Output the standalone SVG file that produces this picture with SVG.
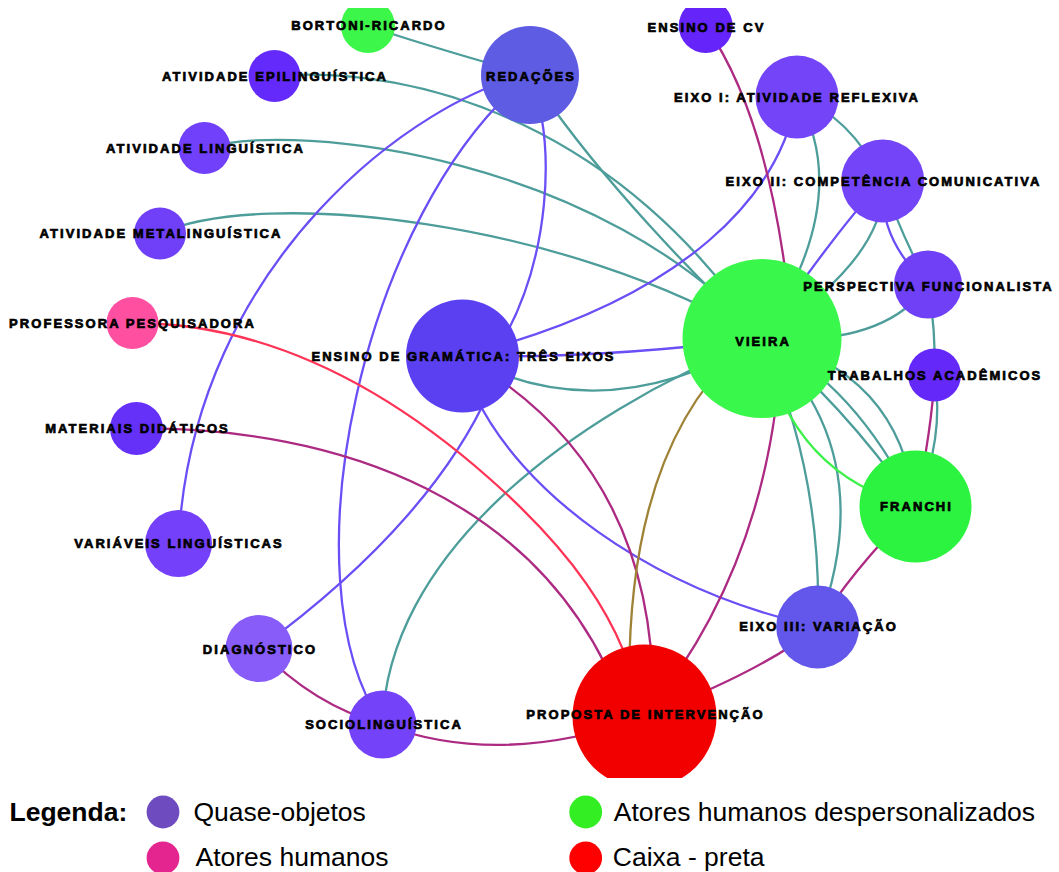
<svg xmlns="http://www.w3.org/2000/svg" width="1059" height="872" viewBox="0 0 1059 872">
  <defs>
    <clipPath id="graphArea">
      <rect x="0" y="8" width="1059" height="770"/>
    </clipPath>
    <style>
      .e { fill: none; stroke-width: 2.3; stroke-linecap: round; }
      .teal { stroke: #4d9d9a; }
      .violet { stroke: #6c4ef6; }
      .plum { stroke: #ac2a82; }
      .rose { stroke: #ff3355; }
      .olive { stroke: #9e8235; }
      .lime { stroke: #3cf24a; }
      .lbl { font-family: "Liberation Sans", Arial, sans-serif; font-weight: bold; font-size: 13px;
             letter-spacing: 2.05px; fill: #000; stroke: #000; stroke-width: 0.7; text-anchor: middle; }
      .legend { font-family: "Liberation Sans", Arial, sans-serif; font-size: 26.5px; fill: #000; }
      .legend-title { font-weight: bold; }
    </style>
  </defs>

  <rect width="1059" height="872" fill="#ffffff"/>

  <g clip-path="url(#graphArea)">
    <!-- connectors -->
    <g id="edges">
      <path class="e teal" d="M368,26 Q424,45 530,75"/>
      <path class="e teal" d="M543,94 C603,180 693,276 762,338.5"/>
      <path class="e teal" d="M274.5,76 C423,64 625,130 762,338.5"/>
      <path class="e teal" d="M204.5,148 C302,120 605,160 762,338.5"/>
      <path class="e teal" d="M160,233.5 C263,187 565,220 762,338.5"/>
      <path class="e teal" d="M462.5,356 Q603,433 762,338.5"/>
      <path class="e teal" d="M382.5,724.5 C387,558 563,418 762,338.5"/>
      <path class="e teal" d="M762,338.5 Q855,198 797,97"/>
      <path class="e teal" d="M797,97 Q849,115 882.7,181"/>
      <path class="e teal" d="M882.7,181 Q889,256 762,338.5"/>
      <path class="e teal" d="M882.7,181 Q900,232 928,284.5"/>
      <path class="e teal" d="M928,284.5 Q885,347 762,338.5"/>
      <path class="e teal" d="M928,284.5 Q936,330 934.5,375"/>
      <path class="e teal" d="M934.5,375 Q945,438 915.5,506.5"/>
      <path class="e teal" d="M762,338.5 Q900,370 915.5,506.5"/>
      <path class="e teal" d="M762,338.5 Q855,383 915.5,506.5"/>
      <path class="e teal" d="M762,338.5 Q838,398 915.5,506.5"/>
      <path class="e teal" d="M762,338.5 Q823,474 817.7,627"/>
      <path class="e teal" d="M762,338.5 Q883,453 817.7,627"/>

      <path class="e violet" d="M882.7,181 Q878,240 928,284.5"/>
      <path class="e violet" d="M530,75 C423,95 192,259 178.5,543.5"/>
      <path class="e violet" d="M530,75 C363,210 283,580 382.5,724.5"/>
      <path class="e violet" d="M530,75 C558,148 548,260 503,340"/>
      <path class="e violet" d="M797,97 C780,193 690,298 462.5,356"/>
      <path class="e violet" d="M762,338.5 Q600,359 462.5,356"/>
      <path class="e violet" d="M882.7,181 Q839,227 762,338.5"/>
      <path class="e violet" d="M490,390 C455,469 383,558 259,648.5"/>
      <path class="e violet" d="M475,395 C520,489 643,588 817.7,627"/>

      <path class="e plum" d="M934.5,375 Q932,428 915.5,506.5"/>
      <path class="e plum" d="M705.7,26 Q768,115 789,300"/>
      <path class="e plum" d="M782,330 Q775,558 644.5,716.5"/>
      <path class="e plum" d="M462.5,356 Q660,468 653,716.5"/>
      <path class="e plum" d="M136.5,428.5 C332,427 550,494 627,716.5"/>
      <path class="e plum" d="M915.5,506.5 Q848,575 817.7,627"/>
      <path class="e plum" d="M817.7,627 Q763,671 644.5,716.5"/>
      <path class="e plum" d="M259,648.5 Q313,705 382.5,724.5"/>
      <path class="e plum" d="M382.5,724.5 Q503,769 644.5,716.5"/>

      <path class="e rose" d="M132.5,323 Q314,323 490,479 C560,541 627,618 642,716.5"/>
      <path class="e olive" d="M740,349 Q620,459 630,716.5"/>
      <path class="e lime" d="M762,338.5 Q790,476 915.5,506.5"/>
    </g>

    <!-- nodes -->
    <g id="node-vieira"><circle cx="762" cy="338.5" r="79.5" fill="#3af74c"/><text class="lbl" x="763" y="345.5">VIEIRA</text></g>
    <g id="node-franchi"><circle cx="915.5" cy="506.5" r="56" fill="#2cf33f"/><text class="lbl" x="916.5" y="511">FRANCHI</text></g>
    <g id="node-bortoni-ricardo"><circle cx="368" cy="26" r="27" fill="#3cf74a"/><text class="lbl" x="369" y="30">BORTONI-RICARDO</text></g>
    <g id="node-redacoes"><circle cx="530" cy="75" r="49" fill="#5f5ce4"/><text class="lbl" x="531" y="81">REDAÇÕES</text></g>
    <g id="node-atividade-epilinguistica"><circle cx="274.5" cy="76" r="26" fill="#6429fb"/><text class="lbl" x="275" y="81">ATIVIDADE EPILINGUÍSTICA</text></g>
    <g id="node-atividade-linguistica"><circle cx="204.5" cy="148" r="26" fill="#7040fa"/><text class="lbl" x="205.5" y="153">ATIVIDADE LINGUÍSTICA</text></g>
    <g id="node-atividade-metalinguistica"><circle cx="160" cy="233.5" r="26" fill="#7040f8"/><text class="lbl" x="161" y="238">ATIVIDADE METALINGUÍSTICA</text></g>
    <g id="node-professora-pesquisadora"><circle cx="132.5" cy="323" r="26" fill="#ff4fa0"/><text class="lbl" x="132.5" y="328">PROFESSORA PESQUISADORA</text></g>
    <g id="node-materiais-didaticos"><circle cx="136.5" cy="428.5" r="26.5" fill="#6530f8"/><text class="lbl" x="137.5" y="433">MATERIAIS DIDÁTICOS</text></g>
    <g id="node-variaveis-linguisticas"><circle cx="178.5" cy="543.5" r="33.5" fill="#7440f9"/><text class="lbl" x="179" y="547.5">VARIÁVEIS LINGUÍSTICAS</text></g>
    <g id="node-diagnostico"><circle cx="259" cy="648.5" r="33.5" fill="#885cf9"/><text class="lbl" x="260" y="654">DIAGNÓSTICO</text></g>
    <g id="node-sociolinguistica"><circle cx="382.5" cy="724.5" r="34" fill="#7442f9"/><text class="lbl" x="384" y="729">SOCIOLINGUÍSTICA</text></g>
    <g id="node-ensino-de-gramatica"><circle cx="462.5" cy="356" r="56.5" fill="#5b40f2"/><text class="lbl" x="463.5" y="361">ENSINO DE GRAMÁTICA: TRÊS EIXOS</text></g>
    <g id="node-ensino-de-cv"><circle cx="705.7" cy="26" r="27" fill="#6424fa"/><text class="lbl" x="706.5" y="31.5">ENSINO DE CV</text></g>
    <g id="node-eixo-i"><circle cx="797" cy="97" r="41.5" fill="#7444f9"/><text class="lbl" x="797" y="102">EIXO I: ATIVIDADE REFLEXIVA</text></g>
    <g id="node-eixo-ii"><circle cx="882.7" cy="181" r="41.5" fill="#7444f9"/><text class="lbl" x="883.5" y="186">EIXO II: COMPETÊNCIA COMUNICATIVA</text></g>
    <g id="node-perspectiva-funcionalista"><circle cx="928" cy="284.5" r="34" fill="#7040f7"/><text class="lbl" x="928.5" y="290.5">PERSPECTIVA FUNCIONALISTA</text></g>
    <g id="node-trabalhos-academicos"><circle cx="934.5" cy="375" r="26.5" fill="#6429f9"/><text class="lbl" x="935" y="379.5">TRABALHOS ACADÊMICOS</text></g>
    <g id="node-eixo-iii"><circle cx="817.7" cy="627" r="41.5" fill="#6356ea"/><text class="lbl" x="818.5" y="631">EIXO III: VARIAÇÃO</text></g>
    <g id="node-proposta-de-intervencao"><circle cx="644.5" cy="716.5" r="72" fill="#f20000"/><text class="lbl" x="645.5" y="719">PROPOSTA DE INTERVENÇÃO</text></g>
  </g>

  <!-- legend -->
  <g id="legend">
    <text class="legend legend-title" x="9.5" y="821">Legenda:</text>
    <circle cx="163" cy="812" r="16.4" fill="#6e4bbf"/>
    <text class="legend" x="193.5" y="821">Quase-objetos</text>
    <circle cx="163" cy="858" r="16.4" fill="#e5258f"/>
    <text class="legend" x="195.5" y="866">Atores humanos</text>
    <circle cx="585.7" cy="812" r="16.4" fill="#33ee22"/>
    <text class="legend" x="613.8" y="821">Atores humanos despersonalizados</text>
    <circle cx="585.7" cy="858" r="16.4" fill="#ff0000"/>
    <text class="legend" x="612.8" y="866">Caixa - preta</text>
  </g>
</svg>
